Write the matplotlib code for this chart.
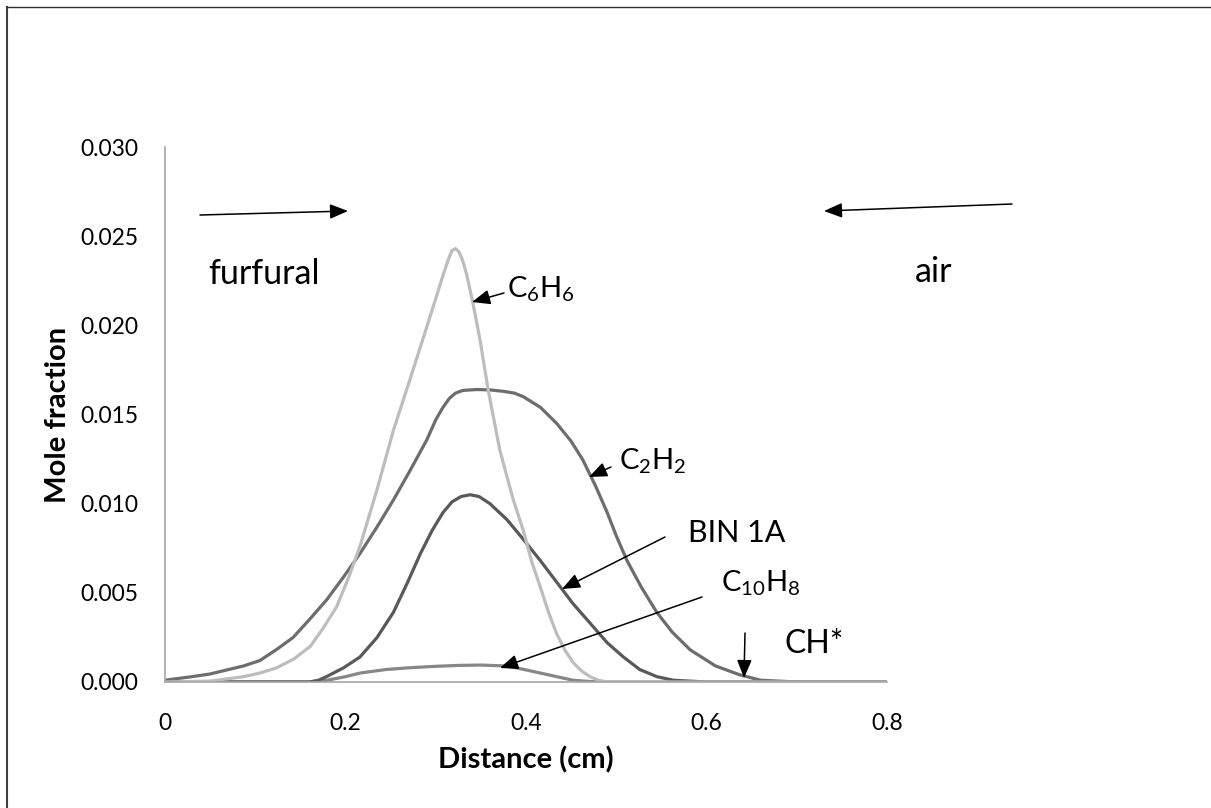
import matplotlib
matplotlib.use("Agg")
import matplotlib.pyplot as plt
from matplotlib.lines import Line2D

plt.rcParams['font.family'] = ['Lato', 'DejaVu Sans']
plt.rcParams['mathtext.default'] = 'regular'

# values (distance in cm, mole fraction)
c6h6_x = [0.0, 0.05, 0.087, 0.105, 0.124, 0.143, 0.161, 0.175, 0.19, 0.203, 0.216, 0.235,
          0.253, 0.271, 0.29, 0.30, 0.308, 0.314, 0.318, 0.322, 0.326, 0.330, 0.334, 0.341,
          0.349, 0.358, 0.371, 0.379, 0.386, 0.397, 0.406, 0.416, 0.425, 0.434, 0.443,
          0.452, 0.462, 0.471, 0.48, 0.49, 0.8]
c6h6_y = [0.0, 0.00005, 0.0003, 0.0005, 0.0008, 0.0013, 0.002, 0.003, 0.0042, 0.0058,
          0.0076, 0.0108, 0.0141, 0.0169, 0.0199, 0.0215, 0.0228, 0.0237, 0.0242, 0.0243,
          0.0241, 0.0236, 0.0229, 0.0213, 0.0192, 0.0164, 0.0130, 0.0115, 0.0102, 0.0085,
          0.0068, 0.0053, 0.0039, 0.0027, 0.0018, 0.0011, 0.0006, 0.0003, 0.0001, 0.0, 0.0]

c2h2_x = [0.0, 0.03, 0.05, 0.068, 0.087, 0.105, 0.123, 0.142, 0.16, 0.179, 0.198, 0.216,
          0.235, 0.253, 0.272, 0.29, 0.30, 0.308, 0.315, 0.322, 0.33, 0.345, 0.36, 0.375,
          0.387, 0.397, 0.416, 0.434, 0.45, 0.463, 0.477, 0.49, 0.50, 0.512, 0.528, 0.545,
          0.562, 0.582, 0.61, 0.637, 0.66, 0.7, 0.8]
c2h2_y = [0.0001, 0.0003, 0.00045, 0.00067, 0.0009, 0.0012, 0.0018, 0.0025, 0.0035, 0.0046,
          0.0059, 0.0072, 0.0087, 0.0102, 0.0119, 0.01357, 0.0147, 0.0154, 0.0159, 0.0162,
          0.01635, 0.0164, 0.01638, 0.0163, 0.0162, 0.0160, 0.0154, 0.0145, 0.0135, 0.01245,
          0.0110, 0.0095, 0.0082, 0.0068, 0.0053, 0.0039, 0.0028, 0.0018, 0.0009, 0.0004,
          0.0001, 0.0, 0.0]

bin1a_x = [0.0, 0.16, 0.17, 0.179, 0.198, 0.216, 0.235, 0.253, 0.268, 0.283, 0.296, 0.308,
           0.318, 0.328, 0.338, 0.348, 0.36, 0.379, 0.397, 0.416, 0.434, 0.452, 0.471, 0.49,
           0.508, 0.526, 0.545, 0.563, 0.6, 0.8]
bin1a_y = [0.0, 0.0, 0.0001, 0.0003, 0.0008, 0.0014, 0.0025, 0.0039, 0.0055, 0.0072, 0.0085,
           0.0095, 0.0101, 0.0104, 0.0105, 0.0104, 0.0100, 0.0091, 0.0080, 0.0068, 0.0056,
           0.0044, 0.0033, 0.0022, 0.0014, 0.0007, 0.0003, 0.0001, 0.0, 0.0]

c10h8_x = [0.0, 0.16, 0.18, 0.2, 0.216, 0.23, 0.245, 0.271, 0.3, 0.325, 0.349, 0.379, 0.398,
           0.416, 0.434, 0.452, 0.47, 0.49, 0.8]
c10h8_y = [0.0, 0.0, 0.0001, 0.0003, 0.0005, 0.0006, 0.0007, 0.0008, 0.00088, 0.00093,
           0.00095, 0.0009, 0.0007, 0.0005, 0.0003, 0.0001, 0.00003, 0.0, 0.0]

W, H = 1211, 808
fig = plt.figure(figsize=(W / 100, H / 100), dpi=100)
ax = fig.add_axes([165 / W, 1 - 682 / H, 722 / W, 535 / H])

ax.plot(c10h8_x, c10h8_y, color='#878787', lw=2.3)
ax.plot(bin1a_x, bin1a_y, color='#595959', lw=2.3)
ax.plot(c2h2_x, c2h2_y, color='#6d6d6d', lw=2.3)
ax.plot(c6h6_x, c6h6_y, color='#bdbdbd', lw=2.3)

ax.set_xlim(0, 0.8)
ax.set_ylim(0, 0.030)
ax.set_xticks([0, 0.2, 0.4, 0.6, 0.8])
ax.set_xticklabels(['0', '0.2', '0.4', '0.6', '0.8'])
ax.set_yticks([0, 0.005, 0.010, 0.015, 0.020, 0.025, 0.030])
ax.set_yticklabels(['0.000', '0.005', '0.010', '0.015', '0.020', '0.025', '0.030'])
ax.tick_params(length=0, labelsize=16.5, pad=19)
ax.tick_params(axis='x', pad=22)
for s in ['top', 'right']:
    ax.spines[s].set_visible(False)
for s in ['left', 'bottom']:
    ax.spines[s].set_color('#a6a6a6')
    ax.spines[s].set_linewidth(1.2)

fig.text(58 / W, 1 - 415 / H, 'Mole fraction', rotation=90, ha='center', va='center',
         fontsize=21, fontweight='bold')
fig.text(526 / W, 1 - 768 / H, 'Distance (cm)', ha='center', va='baseline',
         fontsize=21, fontweight='bold')


def px(x, y):
    return (x / W, 1 - y / H)


arrows = [
    ((200, 215), (348, 211)),
    ((1012, 204), (824, 211)),
    ((504, 293), (472, 302)),
    ((611, 467), (589, 477)),
    ((665, 537), (562, 589)),
    ((702, 597), (500, 668)),
    ((745, 633), (744, 678)),
]
for tail, tip in arrows:
    ax.annotate('', xy=px(*tip), xycoords='figure fraction',
                xytext=px(*tail), textcoords='figure fraction',
                arrowprops=dict(arrowstyle='-|>,head_length=1.1,head_width=0.45',
                                color='black', lw=1.1, shrinkA=0, shrinkB=0))

labels = [
    ('furfural', 208, 284, 24.5),
    ('air', 915, 282, 24.5),
    (r'C$_6$H$_6$', 507, 298, 21),
    (r'C$_2$H$_2$', 619, 470, 21),
    ('BIN 1A', 688, 542, 22),
    (r'C$_{10}$H$_8$', 721, 592, 21),
    ('CH*', 784, 653, 23),
]
for txt, x, y, fs in labels:
    fig.text(x / W, 1 - y / H, txt, ha='left', va='baseline', fontsize=fs)

fig.add_artist(Line2D([7 / W, 7 / W], [0, 1 - 7 / H], color='#404040', lw=1.5))
fig.add_artist(Line2D([7 / W, 1], [1 - 7 / H, 1 - 7 / H], color='#303030', lw=1.0))

fig.savefig('out.png', dpi=100)
